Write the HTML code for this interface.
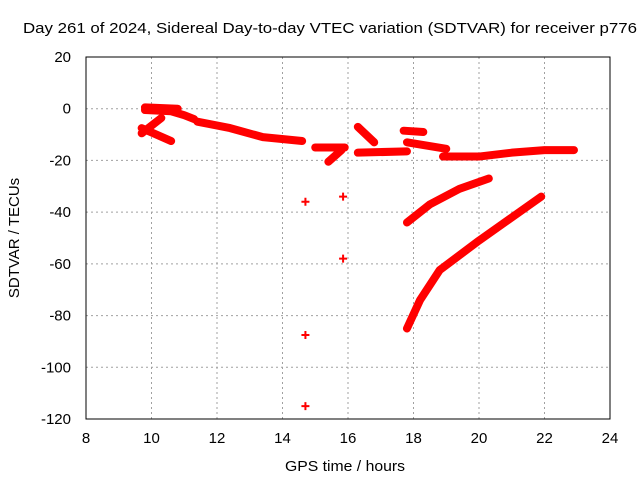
<!DOCTYPE html>
<html><head><meta charset="utf-8"><style>
body{margin:0;background:#fff;}
svg{display:block;font-family:"Liberation Sans",sans-serif;}
</style></head><body>
<svg id="c" width="640" height="480">
<text x="23" y="33" font-size="15" textLength="614" lengthAdjust="spacingAndGlyphs">Day 261 of 2024, Sidereal Day-to-day VTEC variation (SDTVAR) for receiver p776</text>
<text x="345" y="471" font-size="15" textLength="120" lengthAdjust="spacingAndGlyphs" text-anchor="middle">GPS time / hours</text>
<text transform="translate(19,238) rotate(-90)" font-size="15" text-anchor="middle">SDTVAR / TECUs</text>
<g id="grid"></g><g id="marks"></g>
<rect x="86" y="57" width="524" height="362" fill="none" stroke="#000"/>
</svg>
<script>
const xTicks=[8,10,12,14,16,18,20,22,24];
const yTicks=[20,0,-20,-40,-60,-80,-100,-120];
const trackMain=[[9.8,-0.5],[10.6,-1],[11.0,-2.5],[11.3,-4]];
const trackCrossA=[[9.7,-7.5],[10.6,-12.5]];
const trackCrossB=[[9.7,-9.5],[10.3,-3.6]];
const trackTop=[[9.8,0.5],[10.8,0]];
const trackB=[[11.4,-5],[12.4,-7.5],[13.4,-11],[14.6,-12.5]];
const trackC=[[15,-15],[15.9,-15]];
const trackC2=[[15.4,-20.5],[15.8,-16]];
const trackD=[[16.3,-7],[16.8,-13]];
const trackE=[[16.3,-17],[17.8,-16.5]];
const trackF=[[17.7,-8.5],[18.3,-9]];
const trackG=[[17.8,-13],[19,-15.5]];
const trackH=[[18.9,-18.5],[20,-18.5],[21,-17],[22,-16],[22.9,-16]];
const curve1=[[17.8,-44],[18.5,-37],[19.4,-31],[20.3,-27]];
const curve2=[[17.8,-85],[18.2,-74],[18.8,-62.4],[20,-51],[21.9,-34]];
const singles=[[14.7,-36],[14.7,-87.5],[14.7,-115],[15.85,-34],[15.85,-58]];
const tracks=[trackMain,trackCrossA,trackCrossB,trackTop,trackB,trackC,trackC2,trackD,trackE,trackF,trackG,trackH,curve1,curve2];
const X=h=>86+(h-8)*524/16, Y=v=>57+(20-v)*362/140;
const NS='http://www.w3.org/2000/svg';
const g=document.getElementById('grid'), m=document.getElementById('marks');
function mk(p,tag,a){const e=document.createElementNS(NS,tag);for(const k in a)e.setAttribute(k,a[k]);p.appendChild(e);return e;}
xTicks.forEach(t=>{const x=X(t);
 if(t>8&&t<24){const l=mk(g,'line',{x1:x,x2:x,y1:57,y2:419,stroke:'#a0a0a0','stroke-dasharray':'2,3'});
 }
 const tx=mk(g,'text',{x:x,y:443,'font-size':15,'text-anchor':'middle'});tx.textContent=t;
 });
yTicks.forEach(t=>{const y=Y(t);
 if(t<20&&t>-120){const l=mk(g,'line',{x1:86,x2:610,y1:y,y2:y,stroke:'#a0a0a0','stroke-dasharray':'2,3'});
 }
 const tx=mk(g,'text',{x:71,y:y+5,'font-size':15,'text-anchor':'end'});tx.textContent=t;
 });
tracks.forEach(s=>{const p=mk(m,'polyline',{points:s.map(d=>X(d[0])+','+Y(d[1])).join(' '),fill:'none',stroke:'#f00','stroke-width':8,'stroke-linejoin':'round','stroke-linecap':'round'});
 });
singles.forEach(d=>{const x=X(d[0]),y=Y(d[1]);
 const p=mk(m,'path',{d:`M${x-4},${y}h8M${x},${y-4}v8`,stroke:'#f00','stroke-width':2});
 });
</script>
</body></html>
